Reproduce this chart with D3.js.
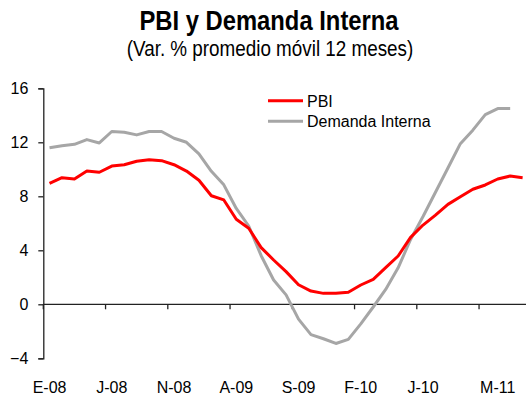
<!DOCTYPE html>
<html>
<head>
<meta charset="utf-8">
<script src="https://cdn.jsdelivr.net/npm/d3@7"></script>
<style>
  html, body { margin: 0; padding: 0; background: #fff; }
  svg { display: block; font-family: "Liberation Sans", Arial, sans-serif; }
</style>
</head>
<body>
<svg id="chart" width="526" height="401"></svg>
<script>
// ---- Data ----
const categories = [
  "2008-01","2008-02","2008-03","2008-04","2008-05","2008-06","2008-07","2008-08","2008-09","2008-10","2008-11","2008-12",
  "2009-01","2009-02","2009-03","2009-04","2009-05","2009-06","2009-07","2009-08","2009-09","2009-10","2009-11","2009-12",
  "2010-01","2010-02","2010-03","2010-04","2010-05","2010-06","2010-07","2010-08","2010-09","2010-10","2010-11","2010-12",
  "2011-01","2011-02","2011-03"
];
const pbi = [
  8.96, 9.38, 9.28, 9.87, 9.78, 10.24, 10.34, 10.60, 10.71, 10.64, 10.34, 9.87,
  9.19, 8.04, 7.73, 6.30, 5.63, 4.20, 3.28, 2.42, 1.45, 0.98, 0.81, 0.81,
  0.89, 1.43, 1.85, 2.71, 3.58, 4.96, 5.87, 6.61, 7.40, 7.97, 8.52, 8.84,
  9.28, 9.50, 9.38
];
const demandaInterna = [
  11.60, 11.75, 11.85, 12.20, 11.95, 12.80, 12.75, 12.55, 12.80, 12.80, 12.30, 12.00,
  11.15, 9.85, 8.85, 7.10, 5.80, 3.60, 1.80, 0.70, -1.10, -2.25, -2.55, -2.90,
  -2.60, -1.45, -0.20, 1.10, 2.70, 4.80, 6.50, 8.30, 10.10, 11.90, 12.90, 14.05,
  14.50, 14.50
];
const yTicks = [-4, 0, 4, 8, 12, 16];
const xTickCategories = ["2008-01","2008-06","2008-11","2009-04","2009-09","2010-02","2010-07","2010-12"];
const xLabelCategories = ["2008-01","2008-06","2008-11","2009-04","2009-09","2010-02","2010-07","2011-01"];
const xLabels = ["E-08","J-08","N-08","A-09","S-09","F-10","J-10","M-11"];
const seriesNames = ["PBI", "Demanda Interna"];
const seriesColors = ["#ff0000", "#a6a6a6"];

// ---- Layout ----
const svg = d3.select("#chart");
const left = 43.3, bandW = 12.45;
const x = d3.scaleBand().domain(categories).range([left, left + categories.length * bandW]).padding(0);
const y = d3.scaleLinear().domain([-4, 16]).range([358.3, 88.3]);
const cx = c => x(c) + x.bandwidth() / 2;

// Title (condensed look via horizontal scaling)
svg.append("text").attr("transform", "translate(269,29.5) scale(0.85,1)")
  .attr("text-anchor", "middle")
  .attr("font-size", 28).attr("font-weight", "bold").attr("fill", "#000")
  .text("PBI y Demanda Interna");
svg.append("text").attr("transform", "translate(270,55.5) scale(0.857,1)")
  .attr("text-anchor", "middle")
  .attr("font-size", 22).attr("fill", "#000")
  .text("(Var. % promedio móvil 12 meses)");

// Y axis
const yAxis = d3.axisLeft(y).tickValues(yTicks).tickSize(5).tickPadding(10).tickFormat(d3.format("d"));
const gy = svg.append("g").attr("transform", `translate(${left},0)`).call(yAxis);
gy.select(".domain").attr("stroke", "#222").attr("stroke-width", 1.3);
gy.selectAll(".tick line").attr("stroke", "#222").attr("stroke-width", 1.3);
gy.selectAll(".tick text").attr("font-size", 16).attr("fill", "#000")
  .attr("font-family", "Liberation Sans, Arial, sans-serif");

// X axis at zero line
const gx = svg.append("g").attr("transform", `translate(0,${y(0)})`);
gx.append("line").attr("x1", left).attr("x2", 526).attr("y1", 0).attr("y2", 0)
  .attr("stroke", "#222").attr("stroke-width", 1.3);
gx.selectAll("line.tick").data(xTickCategories).enter().append("line")
  .attr("class", "tick")
  .attr("x1", d => x(d)).attr("x2", d => x(d)).attr("y1", 0).attr("y2", 5)
  .attr("stroke", "#222").attr("stroke-width", 1.3);
svg.selectAll("text.xlab").data(xLabels).enter().append("text")
  .attr("class", "xlab")
  .attr("x", (d, i) => cx(xLabelCategories[i]))
  .attr("y", 393)
  .attr("text-anchor", "middle").attr("font-size", 16).attr("fill", "#000")
  .text(d => d);

// Lines
const line = d3.line().x((d, i) => cx(categories[i])).y(d => y(d));
svg.append("path").datum(demandaInterna).attr("d", line)
  .attr("fill", "none").attr("stroke", seriesColors[1]).attr("stroke-width", 3)
  .attr("stroke-linejoin", "round");
svg.append("path").datum(pbi).attr("d", line)
  .attr("fill", "none").attr("stroke", seriesColors[0]).attr("stroke-width", 3)
  .attr("stroke-linejoin", "round");

// Legend
const lg = svg.append("g");
seriesNames.forEach((name, i) => {
  const ly = 100.7 + i * 20.5;
  lg.append("line").attr("x1", 268).attr("x2", 303).attr("y1", ly).attr("y2", ly)
    .attr("stroke", seriesColors[i]).attr("stroke-width", 3);
  lg.append("text").attr("x", 307).attr("y", ly + 6).attr("font-size", 16).attr("fill", "#000").text(name);
});
</script>
</body>
</html>
